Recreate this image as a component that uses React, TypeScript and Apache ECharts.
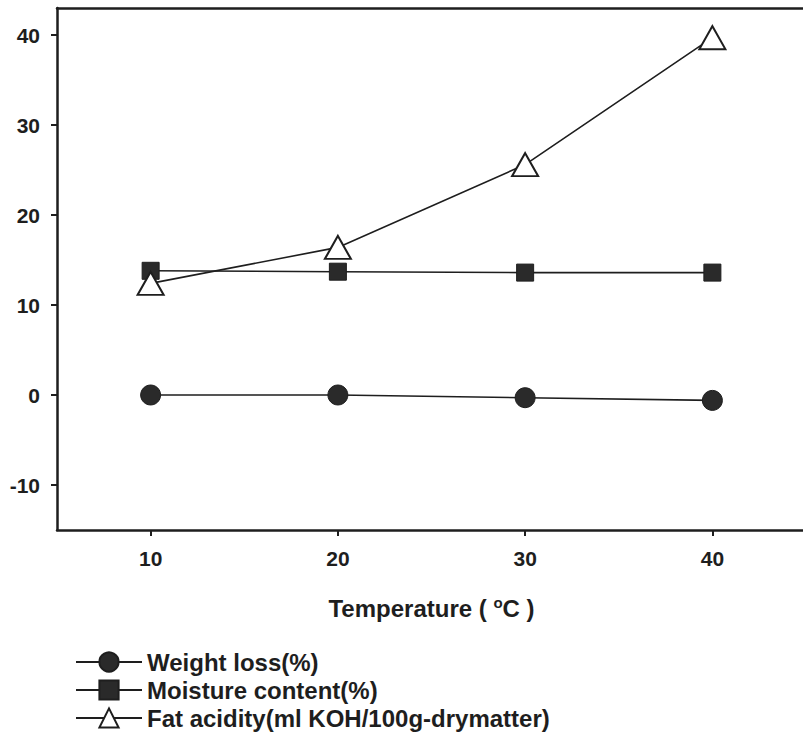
import React, { useEffect, useRef } from "react";
import * as echarts from "echarts";

const temperatures = [10, 20, 30, 40];
const weightLoss = [0, 0, -0.3, -0.6];
const moistureContent = [13.8, 13.7, 13.6, 13.6];
const fatAcidity = [12.4, 16.4, 25.6, 39.7];
const xTicks = [10, 20, 30, 40];
const yTicks = [-10, 0, 10, 20, 30, 40];
const seriesNames = [
  "Weight loss(%)",
  "Moisture content(%)",
  "Fat acidity(ml KOH/100g-drymatter)",
];

const FONT = "'Liberation Sans', Arial, sans-serif";
const INK = "#1e1e1e";

export default function App() {
  const ref = useRef<HTMLDivElement>(null);
  useEffect(() => {
    if (!ref.current) return;
    const chart = echarts.init(ref.current, null, { renderer: "svg" });
    const pair = (ys: number[]) => temperatures.map((t, i) => [t, ys[i]]);
    chart.setOption({
      animation: false,
      backgroundColor: "#fff",
      grid: {
        left: 57,
        top: 8,
        right: 6,
        bottom: 213,
        show: false,
      },
      xAxis: [
        {
          type: "value",
          min: 5,
          max: 45,
          name: "Temperature ( {sup|o}C )",
          nameLocation: "middle",
          nameGap: 65,
          nameTextStyle: {
            fontFamily: FONT,
            fontWeight: "bold",
            fontSize: 24,
            color: INK,
            rich: {
              sup: {
                fontFamily: FONT,
                fontWeight: "bold",
                fontSize: 15,
                color: INK,
                verticalAlign: "top",
                padding: [0, 0, 12, 0],
              },
            },
          },
          axisLine: { show: true, onZero: false, lineStyle: { color: INK, width: 2.5 } },
          axisTick: {
            show: true,
            length: 6,
            customValues: xTicks,
            lineStyle: { color: INK, width: 2 },
          },
          axisLabel: {
            customValues: xTicks,
            margin: 18,
            fontFamily: FONT,
            fontWeight: "bold",
            fontSize: 21,
            color: INK,
          },
          splitLine: { show: false },
        },
        {
          type: "value",
          position: "top",
          min: 5,
          max: 45,
          axisLine: { show: true, onZero: false, lineStyle: { color: INK, width: 2.5 } },
          axisTick: { show: false },
          axisLabel: { show: false },
          splitLine: { show: false },
        },
      ],
      yAxis: {
        type: "value",
        min: -15,
        max: 43,
        axisLine: { show: true, onZero: false, lineStyle: { color: INK, width: 2.5 } },
        axisTick: {
          show: true,
          length: 6,
          customValues: yTicks,
          lineStyle: { color: INK, width: 2 },
        },
        axisLabel: {
          customValues: yTicks,
          margin: 17,
          fontFamily: FONT,
          fontWeight: "bold",
          fontSize: 21,
          color: INK,
        },
        splitLine: { show: false },
      },
      legend: {
        orient: "vertical",
        left: 70,
        top: 645,
        itemWidth: 66,
        itemHeight: 24,
        itemGap: 4,
        textStyle: {
          fontFamily: FONT,
          fontWeight: "bold",
          fontSize: 24,
          color: INK,
        },
        data: seriesNames,
      },
      series: [
        {
          name: seriesNames[0],
          type: "line",
          data: pair(weightLoss),
          symbol: "circle",
          symbolSize: 20,
          itemStyle: { color: "#2a2a2a", borderColor: INK, borderWidth: 1 },
          lineStyle: { color: INK, width: 1.6 },
        },
        {
          name: seriesNames[1],
          type: "line",
          data: pair(moistureContent),
          symbol: "rect",
          symbolSize: 17,
          itemStyle: { color: "#2a2a2a", borderColor: INK, borderWidth: 1 },
          lineStyle: { color: INK, width: 1.6 },
        },
        {
          name: seriesNames[2],
          type: "line",
          data: pair(fatAcidity),
          symbol: "triangle",
          symbolSize: [26, 23],
          itemStyle: { color: "#ffffff", borderColor: INK, borderWidth: 2 },
          lineStyle: { color: INK, width: 1.6 },
        },
      ],
    });
    return () => chart.dispose();
  }, []);
  return (
    <div
      ref={ref}
      style={{ position: "fixed", left: 0, top: 0, width: 812, height: 743 }}
    />
  );
}
